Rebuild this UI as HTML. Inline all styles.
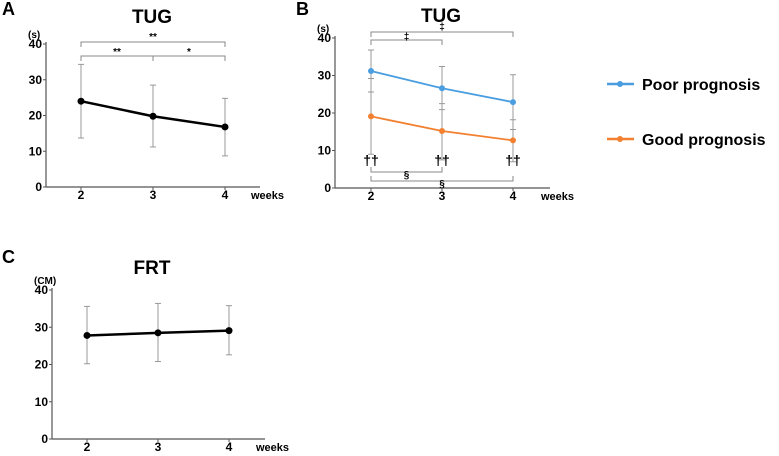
<!DOCTYPE html>
<html><head><meta charset="utf-8"><style>
body{margin:0;background:#fff;width:779px;height:451px;overflow:hidden}
svg{font-family:"Liberation Sans",Arial,sans-serif;font-weight:bold}
</style></head><body>
<svg id="s" width="779" height="451"></svg>
<script>
const weeks=[2,3,4];
const aMean=[24,19.8,16.8], aLo=[13.7,11.2,8.7], aHi=[34.3,28.5,24.8];
const bPoor=[31.2,26.6,22.9], bPoorHi=[36.8,32.4,30.2], bPoorLo=[25.6,20.9,15.6];
const bGood=[19.1,15.2,12.7], bGoodHi=[29.2,22.5,18.2], bGoodLo=[9,7.5,7];
const cMean=[27.8,28.5,29.1], cLo=[20.2,20.8,22.6], cHi=[35.6,36.4,35.8];
const yTicks=[0,10,20,30,40];
const S=document.getElementById('s');NS='http://www.w3.org/2000/svg';
function el(t,a,txt){const e=document.createElementNS(NS,t);for(const k in a)e.setAttribute(k,a[k]);if(txt!=null)e.textContent=txt;S.appendChild(e);return e;}
function panel(p){
 const X=w=>p.x0+(w-2)*p.dx, Y=v=>p.y0-(v/40)*(p.y0-p.y40);
 let e=el('line',{x1:p.ax,y1:p.y40-2,x2:p.ax,y2:p.y0,stroke:'#555','stroke-width':1.2});
 
 e=el('line',{x1:p.ax,y1:p.y0,x2:p.axEnd,y2:p.y0,stroke:'#555','stroke-width':1.2});
 
 yTicks.forEach(t=>{el('line',{x1:p.ax-3,x2:p.ax,y1:Y(t),y2:Y(t),stroke:'#555'});
  e=el('text',{x:p.ax-4,y:Y(t)+4,'text-anchor':'end','font-size':12},t);
  });
 weeks.forEach(w=>{el('line',{x1:X(w),x2:X(w),y1:p.y0,y2:p.y0+3,stroke:'#555'});
  e=el('text',{x:X(w),y:p.y0+12,'text-anchor':'middle','font-size':12},w);
  });
 e=el('text',{x:p.axEnd-9,y:p.y0+12,'font-size':11},'weeks');
 
 e=el('text',{x:p.ax-18,y:p.y40-6,'font-size':10},p.unit);
 
 e=el('text',{x:p.tx,y:p.ty,'text-anchor':'middle','font-size':19},p.title);
 
 e=el('text',{x:p.lx,y:p.ly,'font-size':18},p.letter);
 
 p.series.forEach(s=>{
  weeks.forEach((w,i)=>{
   el('line',{x1:X(w),x2:X(w),y1:Y(s.hi[i]),y2:Y(s.lo[i]),stroke:'#999','stroke-width':1});
   [s.hi[i],s.lo[i]].forEach(v=>el('line',{x1:X(w)-3,x2:X(w)+3,y1:Y(v),y2:Y(v),stroke:'#999'}));
  });
  e=el('polyline',{points:weeks.map((w,i)=>X(w)+','+Y(s.v[i])).join(' '),fill:'none',stroke:s.c,'stroke-width':s.sw});
  
  weeks.forEach((w,i)=>{e=el('circle',{cx:X(w),cy:Y(s.v[i]),r:s.r,fill:s.c});
   });
 });
 return {X,Y};
}
function bracket(x1,x2,y,dir,label,ly){
 const e=el('path',{d:`M${x1},${y+dir*5}V${y}H${x2}V${y+dir*5}`,fill:'none',stroke:'#888','stroke-width':1});
 
 const t=el('text',{x:(x1+x2)/2,y:ly,'text-anchor':'middle','font-size':10},label);
 
}
const A=panel({id:'a',ax:46,axEnd:260,x0:81,dx:72,y0:187,y40:44,unit:'(s)',title:'TUG',tx:152,ty:23,letter:'A',lx:2,ly:15,
 series:[{name:'tug-all',v:aMean,lo:aLo,hi:aHi,c:'#000',sw:2.5,r:3.5}]});
bracket(A.X(2),A.X(4),42,1,'**',40);bracket(A.X(2),A.X(3),56,1,'**',55);bracket(A.X(3),A.X(4),56,1,'*',55);
const B=panel({id:'b',ax:335,axEnd:550,x0:371,dx:71,y0:188,y40:38,unit:'(s)',title:'TUG',tx:441,ty:22,letter:'B',lx:296,ly:15,
 series:[{name:'poor-prognosis',v:bPoor,lo:bPoorLo,hi:bPoorHi,c:'#4a9ee0',sw:1.8,r:3},
         {name:'good-prognosis',v:bGood,lo:bGoodLo,hi:bGoodHi,c:'#f28030',sw:1.8,r:3}]});
bracket(B.X(2),B.X(4),32,1,'‡',30);bracket(B.X(2),B.X(3),40,1,'‡',40);
bracket(B.X(2),B.X(3),172,-1,'§',178);bracket(B.X(2),B.X(4),181,-1,'§',187);
weeks.forEach(w=>{const t=el('text',{x:B.X(w),y:165,'text-anchor':'middle','font-size':14},'††');
 });
const C=panel({id:'c',ax:52,axEnd:265,x0:87,dx:71,y0:439,y40:290,unit:'(CM)',title:'FRT',tx:152,ty:274,letter:'C',lx:2,ly:263,
 series:[{name:'frt',v:cMean,lo:cLo,hi:cHi,c:'#000',sw:2.5,r:3.5}]});
[['Poor prognosis','#4a9ee0',84],['Good prognosis','#f28030',139]].forEach(([n,c,y])=>{
 const g=el('line',{x1:607,x2:634,y1:y,y2:y,stroke:c,'stroke-width':2.5});
 
 el('circle',{cx:620,cy:y,r:3,fill:c});
 const t=el('text',{x:642,y:y+6,'font-size':16},n);
 
});
</script></body></html>
